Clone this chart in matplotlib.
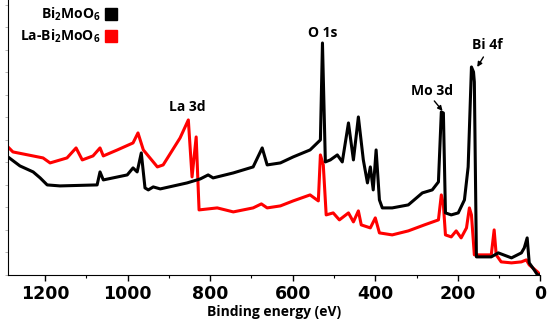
import numpy as np
import matplotlib
matplotlib.use("Agg")
import matplotlib.pyplot as plt
from matplotlib.lines import Line2D

plt.rcParams['font.family'] = ['Open Sans', 'DejaVu Sans']
plt.rcParams['mathtext.default'] = 'regular'

# --- data (binding energy in eV, intensity a.u.) ---
be_bi = [1290, 1261, 1229, 1212, 1195, 1164, 1074, 1067, 1059, 1001, 987, 977, 967,
         958, 950, 938, 921, 856, 824, 805, 793, 744, 696, 674, 662, 630, 599, 558,
         533, 528, 521, 509, 492, 480, 465, 453, 441, 429, 419, 412, 405, 398, 390,
         383, 359, 320, 286, 262, 247, 240, 235, 230, 216, 199, 184, 175, 167, 162,
         160, 155, 119, 102, 70, 46, 39, 32, 27, 15, 7, 0]
int_bi = [118, 109, 103, 97, 90, 89, 90, 103, 95, 100, 107, 103, 122,
          87, 85, 88, 86, 92, 96, 100, 97, 102, 108, 127, 110, 112, 118, 125,
          135, 232, 113, 115, 120, 113, 152, 115, 158, 115, 92, 108, 85, 125, 75,
          67, 67, 70, 82, 85, 93, 163, 162, 62, 60, 62, 75, 108, 208, 203,
          193, 18, 18, 22, 17, 22, 27, 37, 12, 5, 0, 0]

be_la = [1290, 1278, 1205, 1188, 1147, 1125, 1110, 1084, 1067, 1059, 1025, 987, 975,
         962, 928, 914, 873, 853, 844, 834, 827, 783, 744, 696, 676, 662, 630, 599,
         558, 538, 533, 526, 519, 502, 487, 465, 453, 441, 434, 412, 400, 390, 359,
         320, 281, 247, 240, 235, 230, 216, 204, 192, 179, 172, 167, 160, 119, 112,
         107, 95, 70, 46, 34, 27, 7, 0]
int_la = [128, 123, 117, 112, 117, 127, 115, 119, 127, 119, 125, 132, 142,
          125, 108, 110, 137, 155, 98, 138, 65, 67, 63, 67, 71, 67, 69, 74,
          80, 74, 120, 110, 60, 62, 55, 62, 53, 64, 50, 47, 57, 42, 40,
          44, 50, 55, 80, 70, 40, 38, 44, 37, 47, 67, 60, 20, 20, 45,
          20, 13, 12, 13, 15, 10, 3, 0]

fig = plt.figure(figsize=(5.5, 3.23), dpi=100)
ax = fig.add_axes([0.0145, 0.149, 0.968, 0.851])

ax.plot(be_la, int_la, color='#ff0000', lw=2.2, zorder=2)
ax.plot(be_bi, int_bi, color='black', lw=2.2, zorder=3)

ax.set_xlim(1290, 0)
ax.set_ylim(0, 275)
ax.set_xticks(np.arange(0, 1201, 200))
ax.set_xticks(np.arange(100, 1300, 200), minor=True)
ax.set_yticks(np.arange(0, 276, 22.5))
ax.set_yticklabels([])
ax.tick_params(axis='x', which='major', length=4, width=1, labelsize=12.5, pad=3)
ax.tick_params(axis='x', which='minor', length=2.5, width=0.8)
ax.tick_params(axis='y', length=2, width=0.5, color='#999999')
for lab in ax.get_xticklabels():
    lab.set_fontweight('heavy')
    lab.set_family('DejaVu Sans')
ax.spines['top'].set_visible(False)
ax.spines['right'].set_visible(False)
ax.set_xlabel('Binding energy (eV)', fontsize=10, fontweight='bold', labelpad=2)

# peak labels
txt = dict(fontsize=10, fontweight='bold', ha='center', va='center')
ax.text(528, 242, 'O 1s', **txt)
ax.text(855, 168, 'La 3d', **txt)
ax.text(262, 184, 'Mo 3d', **txt)
ax.text(128, 230, 'Bi 4f', **txt)
arrow = dict(arrowstyle='-|>', color='black', lw=1, mutation_scale=7,
             shrinkA=0, shrinkB=0)
ax.annotate('', xy=(237, 164), xytext=(257, 174), arrowprops=arrow)
ax.annotate('', xy=(153, 208), xytext=(138, 218), arrowprops=arrow)

# legend with square markers on the right side
handles = [Line2D([], [], ls='none', marker='s', ms=8.5, color='black'),
           Line2D([], [], ls='none', marker='s', ms=8.5, color='#ff0000')]
leg = ax.legend(handles, [r'Bi$_2$MoO$_6$', r'La-Bi$_2$MoO$_6$'], loc='upper left',
                bbox_to_anchor=(0.0, 1.025), frameon=False, markerfirst=False,
                handlelength=0.8, handletextpad=0.3, labelspacing=0.35,
                prop=dict(size=10, weight='bold'))
for t in leg.get_texts():
    t.set_ha('right')

fig.savefig('out.png', dpi=100)
